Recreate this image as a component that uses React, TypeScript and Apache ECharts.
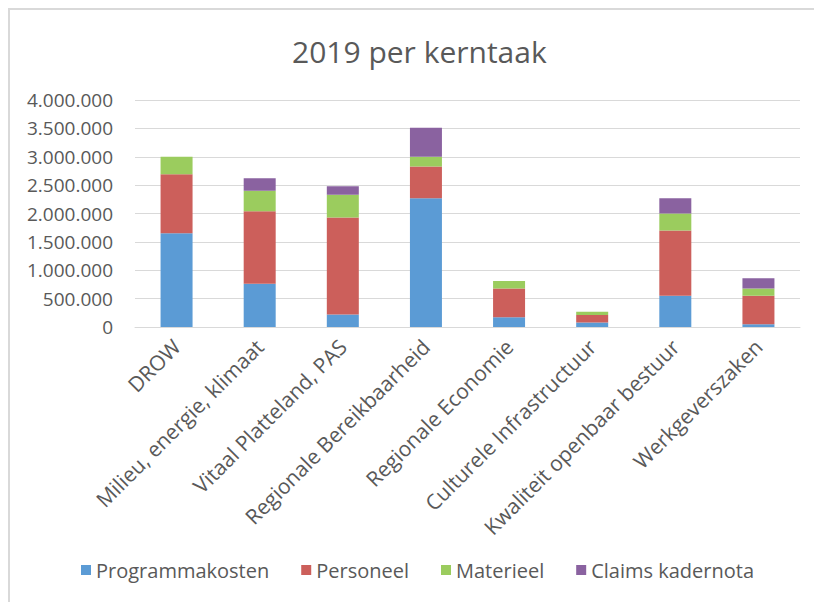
import React, { useEffect, useRef } from "react";
import * as echarts from "echarts";

const categories = [
  "DROW",
  "Milieu, energie, klimaat",
  "Vitaal Platteland, PAS",
  "Regionale Bereikbaarheid",
  "Regionale Economie",
  "Culturele Infrastructuur",
  "Kwaliteit openbaar bestuur",
  "Werkgeverszaken",
];
const programmakosten = [1650000, 760000, 220000, 2270000, 170000, 80000, 550000, 50000];
const personeel = [1040000, 1280000, 1710000, 560000, 510000, 130000, 1150000, 500000];
const materieel = [310000, 360000, 400000, 170000, 130000, 60000, 300000, 130000];
const claims = [0, 220000, 150000, 510000, 0, 0, 270000, 180000];

const fmt = (v: number) => String(v).replace(/\B(?=(\d{3})+(?!\d))/g, ".");

export default function App() {
  const ref = useRef<HTMLDivElement>(null);
  useEffect(() => {
    if (!ref.current) return;
    const chart = echarts.init(ref.current, undefined, { renderer: "svg" });
    const font = "'Open Sans', 'Liberation Sans', sans-serif";
    const mk = (name: string, data: number[], color: string) => ({
      name,
      type: "bar",
      stack: "total",
      data,
      barWidth: 32,
      itemStyle: { color },
    });
    chart.setOption({
      animation: false,
      backgroundColor: "#ffffff",
      textStyle: { fontFamily: font },
      title: {
        text: "2019 per kerntaak",
        left: 287,
        top: 31,
        textStyle: { fontFamily: font, fontSize: 30, fontWeight: "normal", color: "#595959" },
      },
      graphic: [
        {
          type: "rect",
          shape: { x: 9, y: 9, width: 900, height: 700 },
          style: { fill: "none", stroke: "#d9d9d9", lineWidth: 2 },
          silent: true,
        },
      ],
      legend: {
        bottom: 17,
        left: 76,
        itemWidth: 10,
        itemHeight: 10,
        itemGap: 32,
        icon: "rect",
        textStyle: { fontFamily: font, fontSize: 20, color: "#595959" },
        data: ["Programmakosten", "Personeel", "Materieel", "Claims kadernota"],
      },
      grid: { left: 135, right: 14, top: 100, bottom: 275 },
      xAxis: {
        type: "category",
        data: categories,
        axisLine: { lineStyle: { color: "#d9d9d9", width: 1 } },
        axisTick: { show: false },
        axisLabel: {
          rotate: 45,
          interval: 0,
          margin: 16,
          fontFamily: font,
          fontSize: 21,
          color: "#595959",
        },
      },
      yAxis: {
        type: "value",
        min: 0,
        max: 4000000,
        interval: 500000,
        axisLine: { show: false },
        axisTick: { show: false },
        splitLine: { lineStyle: { color: "#d9d9d9", width: 1 } },
        axisLabel: {
          fontFamily: font,
          fontSize: 19,
          color: "#595959",
          margin: 22,
          formatter: (v: number) => fmt(v),
        },
      },
      series: [
        mk("Programmakosten", programmakosten, "#5b9bd5"),
        mk("Personeel", personeel, "#cc5f5b"),
        mk("Materieel", materieel, "#9bcc5e"),
        mk("Claims kadernota", claims, "#8a62a0"),
      ],
    });
    return () => chart.dispose();
  }, []);
  return (
    <div
      ref={ref}
      style={{ position: "fixed", left: 0, top: 0, width: 814, height: 602 }}
    />
  );
}
